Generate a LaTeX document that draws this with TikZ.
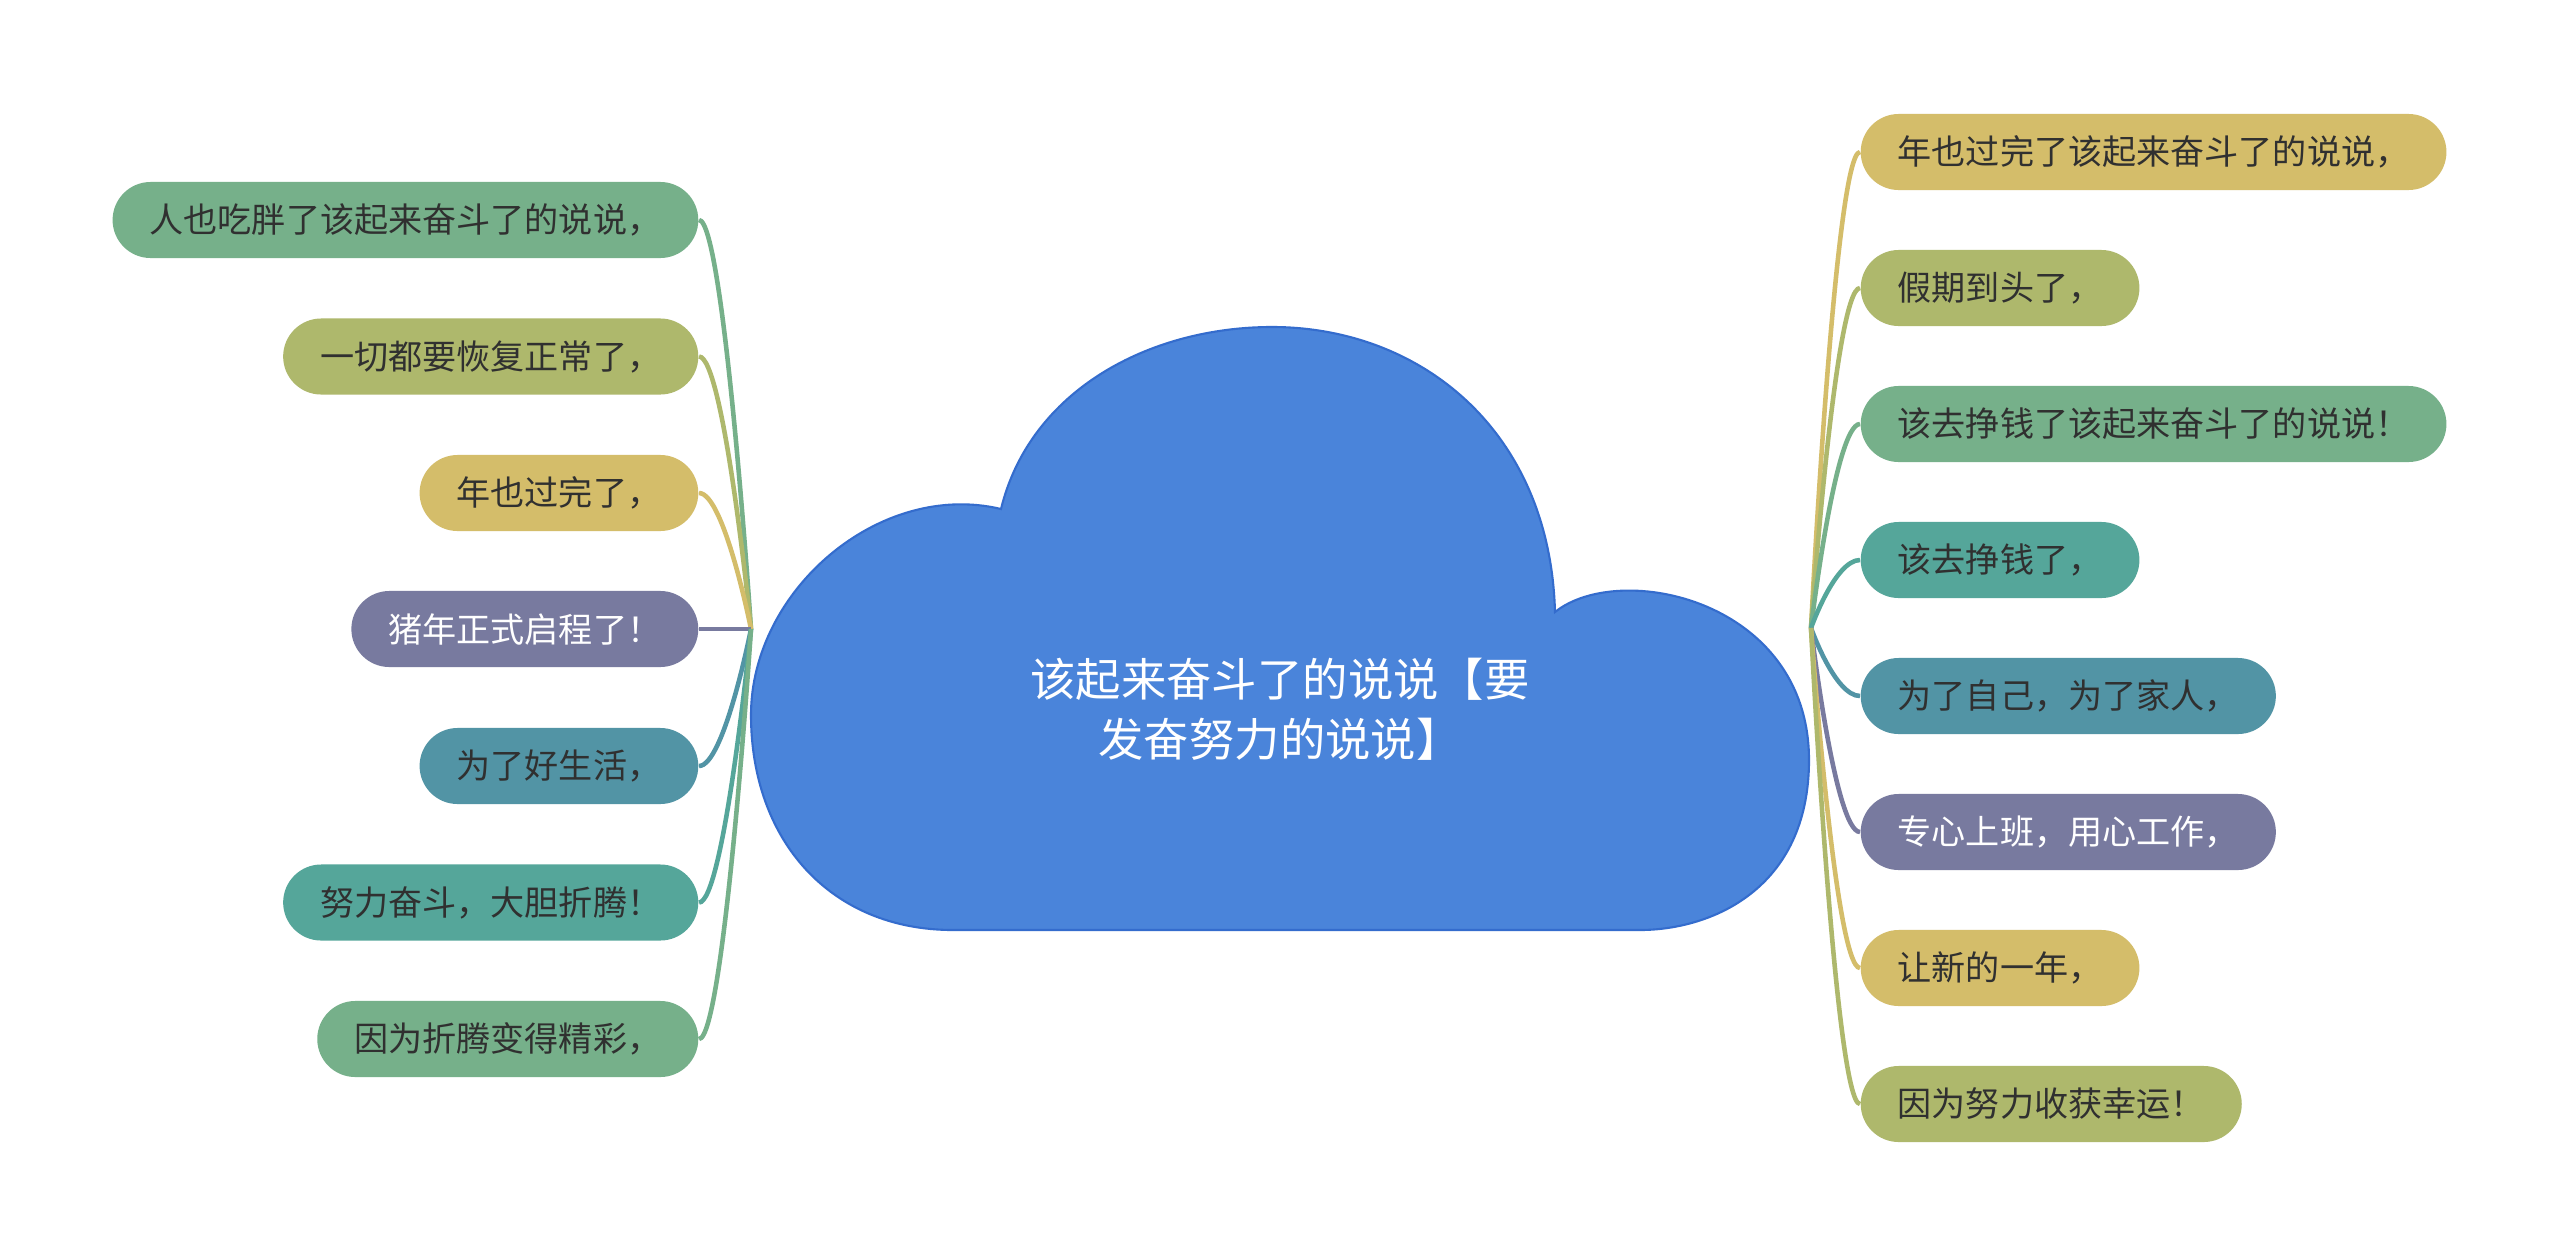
\documentclass[tikz,border=0pt]{standalone}
\usepackage{fontspec}
\setmainfont{Noto Sans CJK SC}
\definecolor{cloudblue}{RGB}{74,132,218}
\definecolor{cloudedge}{RGB}{52,108,205}
\definecolor{leafgreen}{RGB}{118,176,138}
\definecolor{leafolive}{RGB}{174,184,108}
\definecolor{leafgold}{RGB}{212,189,106}
\definecolor{leafviolet}{RGB}{120,122,159}
\definecolor{leafsteel}{RGB}{82,148,165}
\definecolor{leafteal}{RGB}{85,166,154}
\definecolor{leaftext}{RGB}{48,48,48}
\tikzset{
  leaf/.style={rounded corners=0.38cm, minimum height=0.76cm, inner xsep=0.37cm, inner ysep=0pt,
    font=\fontsize{9.7pt}{11pt}\selectfont, text=leaftext},
  leftleaf/.style={leaf, anchor=east},
  rightleaf/.style={leaf, anchor=west},
  branch/.style={line width=1.3pt},
  rootlabel/.style={align=center, text=white, font=\fontsize{12.9pt}{17pt}\selectfont},
}

\begin{document}
\begin{tikzpicture}[x=0.01cm, y=-0.01cm]
        \fill[white] (0,0) rectangle (2560,1257);
        \useasboundingbox (0,0) rectangle (2560,1257);

        % cloud
        \draw[fill=cloudblue, draw=cloudedge, line width=0.6pt]
            (953,930) .. controls (830,930) and (751,840) .. (751,715)
            .. controls (751,590) and (880,480) .. (1001,509)
            .. controls (1030,390) and (1150,327) .. (1272,327)
            .. controls (1420,327) and (1550,430) .. (1555,612)
            .. controls (1620,560) and (1809,600) .. (1809,760)
            .. controls (1809,890) and (1710,930) .. (1640,930)
            -- cycle;
        \node[rootlabel] (root) at (1280,709) {该起来奋斗了的说说【要\\发奋努力的说说】};
        \coordinate (lhub) at (751,629);
        \coordinate (rhub) at (1811,628);

        % left side
        \node[leftleaf, fill=leafgreen] (l1) at (699,220) {人也吃胖了该起来奋斗了的说说，};
        \node[leftleaf, fill=leafolive] (l2) at (699,356.5) {一切都要恢复正常了，};
        \node[leftleaf, fill=leafgold] (l3) at (699,493) {年也过完了，};
        \node[leftleaf, fill=leafviolet, text=white] (l4) at (699,629) {猪年正式启程了！};
        \node[leftleaf, fill=leafsteel] (l5) at (699,766) {为了好生活，};
        \node[leftleaf, fill=leafteal] (l6) at (699,902.5) {努力奋斗，大胆折腾！};
        \node[leftleaf, fill=leafgreen] (l7) at (699,1039) {因为折腾变得精彩，};

        % right side
        \node[rightleaf, fill=leafgold] (r1) at (1860,152) {年也过完了该起来奋斗了的说说，};
        \node[rightleaf, fill=leafolive] (r2) at (1860,288) {假期到头了，};
        \node[rightleaf, fill=leafgreen] (r3) at (1860,424) {该去挣钱了该起来奋斗了的说说！};
        \node[rightleaf, fill=leafteal] (r4) at (1860,560) {该去挣钱了，};
        \node[rightleaf, fill=leafsteel] (r5) at (1860,696) {为了自己，为了家人，};
        \node[rightleaf, fill=leafviolet, text=white] (r6) at (1860,832) {专心上班，用心工作，};
        \node[rightleaf, fill=leafgold] (r7) at (1860,968) {让新的一年，};
        \node[rightleaf, fill=leafolive] (r8) at (1860,1104) {因为努力收获幸运！};

        % branches
        \foreach \n/\c in {l1/leafgreen, l2/leafolive, l3/leafgold, l4/leafviolet, l5/leafsteel, l6/leafteal, l7/leafgreen}
            \draw[branch, \c] (\n.east) .. controls +(25,0) and (lhub) .. (lhub);
        \foreach \n/\c in {r1/leafgold, r2/leafolive, r3/leafgreen, r4/leafteal, r5/leafsteel, r6/leafviolet, r7/leafgold, r8/leafolive}
            \draw[branch, \c] (\n.west) .. controls +(-25,0) and (rhub) .. (rhub);
    \end{tikzpicture}
\end{document}
